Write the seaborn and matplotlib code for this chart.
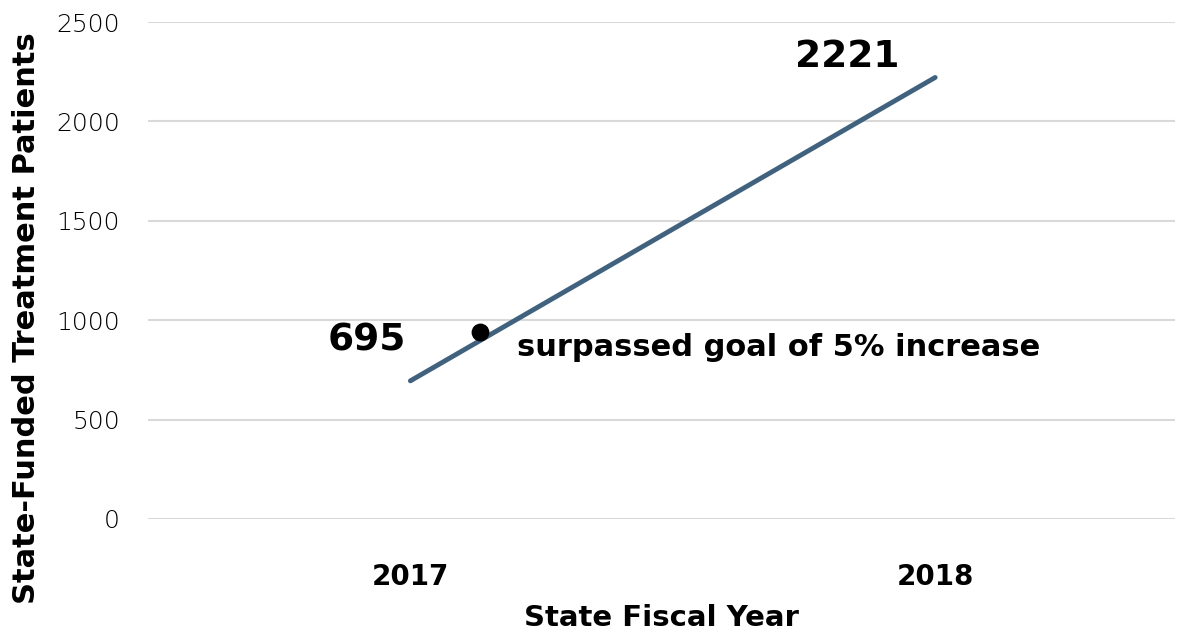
import matplotlib
matplotlib.use("Agg")
import matplotlib.pyplot as plt
import seaborn as sns

# data
years = ["2017", "2018"]
patients = [695, 2221]
goal_pos = [0.133]
goal_value = [940]
goal_text = "surpassed goal of 5% increase"
y_ticks = [0, 500, 1000, 1500, 2000, 2500]

sns.set_style("white")
plt.rcParams['font.family'] = ['DejaVu Sans']
plt.rcParams['text.color'] = 'black'
plt.rcParams['axes.labelcolor'] = 'black'
plt.rcParams['xtick.color'] = 'black'
plt.rcParams['ytick.color'] = 'black'

fig = plt.figure(figsize=(11.84, 6.38), dpi=100)
ax = fig.add_axes([148 / 1184, 119 / 638, (1175 - 148) / 1184, (519 - 22) / 638])

sns.lineplot(x=years, y=patients, ax=ax, color="#41627E", linewidth=3.5, sort=False)
ax.scatter(goal_pos, goal_value, s=140, color="black", zorder=5)

ax.set_xlim(-0.5, 1.457)
ax.set_ylim(0, 2500)
ax.set_yticks(y_ticks)
ax.yaxis.grid(True, color="#D9D9D9", linewidth=1.5)
ax.set_axisbelow(True)
sns.despine(ax=ax, left=True, bottom=True)

ax.tick_params(axis="y", length=0, pad=20, labelsize=18)
ax.tick_params(axis="x", length=0, pad=32, labelsize=20)
for lab in ax.get_yticklabels():
    lab.set_fontweight("light")
for lab in ax.get_xticklabels():
    lab.set_fontweight("bold")

ax.set_xlabel("State Fiscal Year", fontsize=21, fontweight="bold", va="center")
ax.set_ylabel("State-Funded Treatment Patients", fontsize=22, fontweight="bold", va="center")
ax.xaxis.set_label_coords(0.5, -0.199)
ax.yaxis.set_label_coords(-0.118, 0.404)

# value labels
ax.annotate(str(patients[0]), (0, patients[0]), xytext=(-44, 40), textcoords="offset pixels",
            ha="center", va="center", fontsize=27, fontweight="bold")
ax.annotate(str(patients[1]), (1, patients[1]), xytext=(-88, 20), textcoords="offset pixels",
            ha="center", va="center", fontsize=27, fontweight="bold")
ax.annotate(goal_text, (goal_pos[0], goal_value[0]), xytext=(37, -15), textcoords="offset pixels",
            ha="left", va="center", fontsize=22, fontweight="bold")

fig.savefig("out.png", dpi=100)
